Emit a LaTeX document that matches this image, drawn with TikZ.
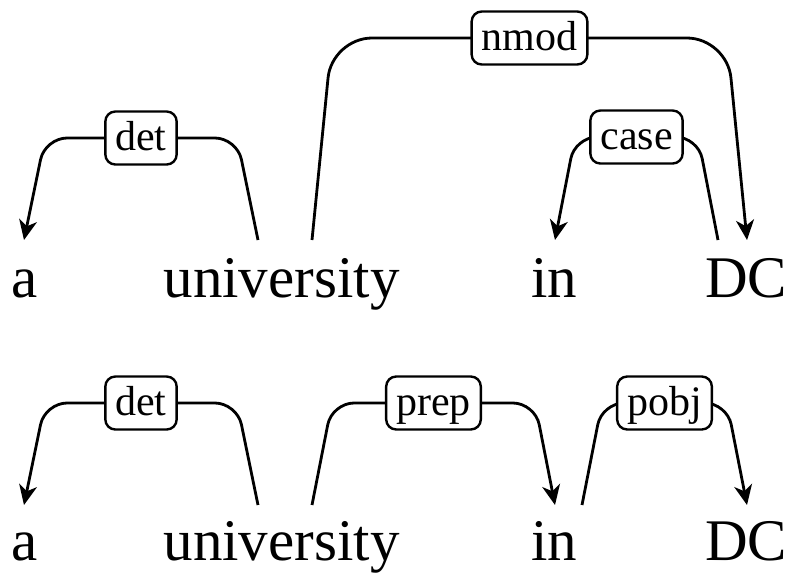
\documentclass[tikz,border=0pt]{standalone}
\usepackage{fontspec}
\newfontfamily\treefont{Liberation Serif}
\usetikzlibrary{arrows.meta}
\begin{document}
\begin{tikzpicture}[x=1pt,y=-1pt,
  word/.style={inner sep=0pt,anchor=base,font=\treefont\fontsize{59}{70}\selectfont},
  deplabel/.style={draw,line width=2.4pt,rounded corners=10pt,fill=white,
    font=\treefont\fontsize{42}{50}\selectfont,inner xsep=10pt,inner ysep=4pt,
    text height=35pt,text depth=10pt},
  deparc/.style={line width=2.8pt,rounded corners=#1},
  deparc/.default=22pt,
  tip/.style={-{Stealth[length=20pt,width=18pt,inset=6pt]}}
]
\useasboundingbox (0,0) rectangle (790,574);

% ---------- upper sentence (UD analysis) ----------
\node[word] (ua)   at (25,297)    {a};
\node[word] (uuni) at (281.5,297) {university};
\node[word] (uin)  at (554.5,297) {in};
\node[word] (udc)  at (746,297)   {DC};

\coordinate (ua-in)    at (24,240);
\coordinate (uuni-l)   at (258,240);
\coordinate (uuni-r)   at (312,240);
\coordinate (uin-in)   at (555,240);
\coordinate (udc-l)    at (718,240);
\coordinate (udc-r)    at (747,240);

\draw[deparc,tip] (uuni-l) -- ++(-21,-102) -- node[deplabel] (udet) {det} ++(-192,0) -- (ua-in);
\draw[deparc=40pt,tip] (uuni-r) -- ++(20,-202) -- node[deplabel] (unmod) {nmod} ++(395,0) -- (udc-r);
\draw[deparc,tip] (udc-l) -- ++(-20,-103) -- node[deplabel] (ucase) {case} ++(-123,0) -- (uin-in);

% ---------- lower sentence (Stanford analysis) ----------
\node[word] (la)   at (25,560)    {a};
\node[word] (luni) at (281.5,560) {university};
\node[word] (lin)  at (554.5,560) {in};
\node[word] (ldc)  at (746,560)   {DC};

\coordinate (la-in)    at (24,505);
\coordinate (luni-l)   at (258,505);
\coordinate (luni-r)   at (312,505);
\coordinate (lin-in)   at (555,505);
\coordinate (lin-r)    at (582,505);
\coordinate (ldc-in)   at (747,505);

\draw[deparc,tip] (luni-l) -- ++(-21,-102) -- node[deplabel] (ldet) {det} ++(-192,0) -- (la-in);
\draw[deparc,tip] (luni-r) -- ++(20,-102) -- node[deplabel] (lprep) {prep} ++(203,0) -- (lin-in);
\draw[deparc,tip] (lin-r) -- ++(20,-102) -- node[deplabel] (lpobj) {pobj} ++(125,0) -- (ldc-in);
\end{tikzpicture}
\end{document}
